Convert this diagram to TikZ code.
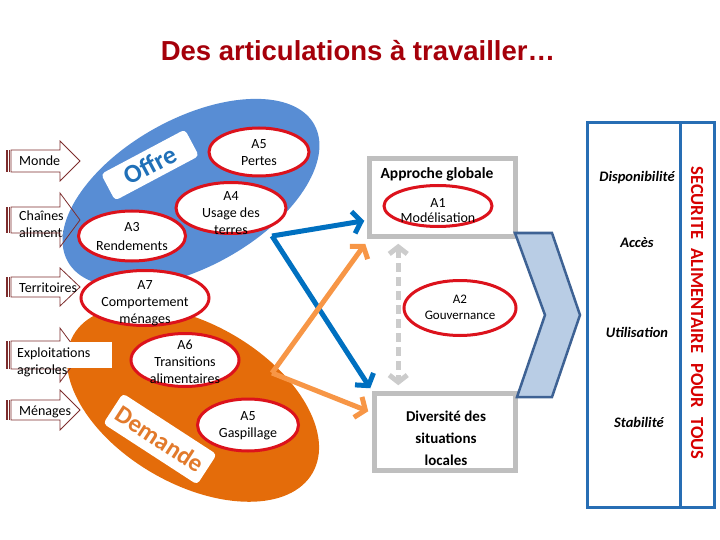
\documentclass[tikz,border=0pt]{standalone}
\usepackage{fontspec}
\setmainfont{Carlito}
\newfontfamily\titrefont{Liberation Sans}
\usetikzlibrary{arrows.meta,positioning,shapes.geometric,calc}

\definecolor{bleuoffre}{RGB}{88,141,212}
\definecolor{texteoffre}{RGB}{32,112,184}
\definecolor{orangedem}{RGB}{228,108,10}
\definecolor{textedem}{RGB}{226,122,44}
\definecolor{rougeA}{RGB}{220,18,28}
\definecolor{bleuflux}{RGB}{0,112,192}
\definecolor{orangeflux}{RGB}{247,150,70}
\definecolor{gris}{RGB}{191,191,191}
\definecolor{chevfond}{RGB}{185,205,229}
\definecolor{chevbord}{RGB}{62,98,148}
\definecolor{bleucadre}{RGB}{40,110,180}
\definecolor{bordeaux}{RGB}{125,45,45}
\definecolor{titre}{RGB}{165,0,10}
\definecolor{rougesecu}{RGB}{215,0,0}

% fleche rayee : y, demi-hauteur du corps, demi-hauteur de la tete
\newcommand{\flechegauche}[3]{%
  \draw[fleche] (11,#1-#2) -- (60,#1-#2) -- (60,#1-#3) -- (80,#1) -- (60,#1+#3) -- (60,#1+#2) -- (11,#1+#2) -- cycle;
  \fill[bordeaux] (5.5,#1-#2) rectangle (7.5,#1+#2);
  \draw[fleche] (9.2,#1-#2) -- (9.2,#1+#2);
}

\tikzset{
  fleche/.style={draw=bordeaux, line width=0.8pt},
  lbl/.style={anchor=west, align=left, inner sep=0pt, font=\fontsize{14}{17}\selectfont},
  etiq/.style={fill=white, rounded corners=4pt, inner sep=0pt},
  aell/.style={ellipse, draw=rougeA, line width=3pt, fill=white, inner sep=0pt},
  atxt/.style={align=center, inner sep=0pt, font=\fontsize{14}{17}\selectfont},
  grisbox/.style={draw=gris, line width=4.5pt, fill=white},
  fluxbleu/.style={draw=bleuflux, line width=5pt, -{Straight Barb[length=8pt,width=22pt]}},
  fluxorange/.style={draw=orangeflux, line width=5pt, -{Straight Barb[length=8pt,width=22pt]}},
  pointille/.style={draw=gris!80, line width=5pt, dash pattern=on 9pt off 5pt,
    {Straight Barb[length=7pt,width=18pt]}-{Straight Barb[length=7pt,width=18pt]}},
  cadre/.style={draw=bleucadre, line width=3pt},
  dim/.style={font=\bfseries\itshape\fontsize{14.5}{17}\selectfont}
}

\begin{document}
\begin{tikzpicture}[x=1pt,y=-1pt]
  \useasboundingbox (0,0) rectangle (720,540);
  % Titre
  \node[font=\titrefont\bfseries\fontsize{27.5}{32}\selectfont, text=titre] (titre) at (358,51) {Des articulations à travailler…};
  % Etiquette sous l'ellipse bleue
  \node[lbl] (chaines) at (19,224) {Chaînes\\alimentaires};
  % Offre
  \fill[bleuoffre, rotate around={29:(191,193)}] (191,193) ellipse [x radius=141pt, y radius=74pt];
  \node[etiq, rotate=28, minimum width=95pt, minimum height=30pt, text=texteoffre,
        font=\bfseries\fontsize{26}{28}\selectfont] (offre) at (150,165) {Offre};
  % Demande
  \fill[orangedem, rotate around={-30:(193,404)}] (193,404) ellipse [x radius=138pt, y radius=80pt];
  \node[etiq, rotate=-33, minimum width=112pt, minimum height=36pt, text=textedem,
        font=\bfseries\fontsize{25}{28}\selectfont] (demande) at (160,439) {Demande};
  % Fleches d'echelle
  \flechegauche{161}{11}{20}
  \flechegauche{220}{13}{27}
  \flechegauche{287}{10}{19}
  \flechegauche{355}{14}{27}
  \flechegauche{410}{10}{20}
  \node[lbl] (monde) at (19,161) {Monde};
  \node[lbl] (territoires) at (19,288) {Territoires};
  \fill[white] (13,342) rectangle (112,368);
  \node[lbl] (exploitations) at (17,362) {Exploitations\\agricoles};
  \node[lbl] (menages) at (19,412) {Ménages};
  % Cadres gris
  \node[grisbox, minimum width=146pt, minimum height=78pt] (globale) at (442.5,197.5) {};
  \node[grisbox, minimum width=141pt, minimum height=77pt] (diversite) at (445,432) {};
  \node[font=\bfseries\fontsize{15.5}{18}\selectfont] (approche) at (437,174) {Approche globale};
  \node[align=center, font=\bfseries\fontsize{15}{22}\selectfont] (situations) at (446,438) {Diversité des\\situations\\locales};
  % Flux
  \coordinate (srcbleu) at (272,236);
  \coordinate (srcorange) at (272,373);
  \draw[fluxbleu] (srcbleu) -- ($(globale.south west)+(-3,-18)$);
  \draw[fluxbleu] (srcbleu) -- ($(diversite.north west)+(-2,-3)$);
  \draw[fluxorange] (srcorange) -- ($(globale.south west)+(-2,5)$);
  \draw[fluxorange] (srcorange) -- ($(diversite.north west)+(-4,20)$);
  \draw[pointille] ($(globale.south west)+(31,5)$) -- ($(diversite.north west)+(26,-6)$);
  % Actions
  \node[aell, minimum width=100pt, minimum height=48pt] (a5p) at (259,152) {};
  \node[atxt] at (259,153) {A5\\Pertes};
  \node[aell, minimum width=110pt, minimum height=51pt] (a4) at (231,208) {};
  \node[atxt] at (231,213) {A4\\Usage des\\terres};
  \node[aell, minimum width=107pt, minimum height=50pt] (a3) at (132,236) {};
  \node[atxt] at (132,237) {A3\\[2pt]Rendements};
  \node[aell, minimum width=128pt, minimum height=55pt] (a7) at (145,298) {};
  \node[atxt] at (145,303) {A7\\Comportement\\ménages};
  \node[aell, minimum width=108pt, minimum height=53pt] (a6) at (185,360) {};
  \node[atxt] at (185,362) {A6\\Transitions\\alimentaires};
  \node[aell, minimum width=101pt, minimum height=52pt] (a5g) at (248,425) {};
  \node[atxt] at (248,426) {A5\\Gaspillage};
  \node[aell, minimum width=108pt, minimum height=41pt] (a1) at (438,206) {};
  \node[atxt, font=\fontsize{14}{15}\selectfont] at (438,211) {A1\\Modélisation};
  \node[aell, minimum width=112pt, minimum height=55pt] (a2) at (460,308) {};
  \node[atxt, font=\fontsize{13}{16}\selectfont] at (460,307) {A2\\Gouvernance};
  % Chevron
  \filldraw[fill=chevfond, draw=chevbord, line width=2.5pt] (515,233) -- (552,233) -- (580,315) -- (552,397) -- (517,397) -- (545,315) -- cycle;
  % Dimensions de la securite alimentaire
  \draw[cadre] (587,123) rectangle (680,507);
  \draw[cadre] (680,123) rectangle (714,507);
  \node[dim] (dispo) at (637,178) {Disponibilité};
  \node[dim] (acces) at (637,243) {Accès};
  \node[dim] (utilisation) at (637,332) {Utilisation};
  \node[dim] (stabilite) at (639,422) {Stabilité};
  \node[rotate=-90, text=rougesecu, font=\bfseries\fontsize{18.5}{20}\selectfont] (secu) at (697,313)
    {SECURITE\hspace{5pt} ALIMENTAIRE\hspace{6pt} POUR\hspace{5pt} TOUS};
\end{tikzpicture}
\end{document}
